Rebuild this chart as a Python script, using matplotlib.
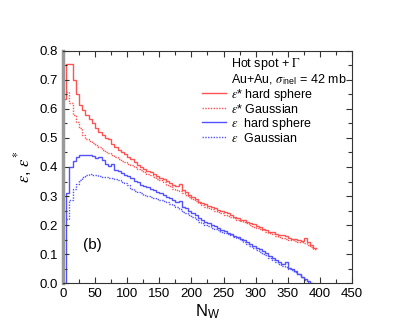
import numpy as np
import matplotlib
matplotlib.use('Agg')
import matplotlib.pyplot as plt
from matplotlib.lines import Line2D
from matplotlib.ticker import MultipleLocator

plt.rcParams['font.family'] = ['Liberation Sans', 'DejaVu Sans']
plt.rcParams['mathtext.fontset'] = 'stix'

# bin width in N_W
bin_w = 5

# eps* hard sphere, bins start at N_W = 0
star_hard = [0.633, 0.754, 0.754, 0.700, 0.650, 0.615, 0.595, 0.580, 0.565, 0.550,
             0.535, 0.520, 0.510, 0.499, 0.495, 0.478, 0.470, 0.460, 0.452, 0.445,
             0.436, 0.428, 0.418, 0.408, 0.400, 0.393, 0.386, 0.382, 0.376, 0.369,
             0.362, 0.357, 0.352, 0.346, 0.339, 0.333, 0.343, 0.322, 0.313, 0.305,
             0.298, 0.290, 0.281, 0.276, 0.272, 0.267, 0.263, 0.258, 0.252, 0.248,
             0.246, 0.240, 0.234, 0.228, 0.224, 0.219, 0.216, 0.212, 0.208, 0.203,
             0.198, 0.193, 0.188, 0.183, 0.177, 0.175, 0.170, 0.167, 0.164, 0.161,
             0.156, 0.153, 0.151, 0.148, 0.146, 0.157, 0.141, 0.132, 0.122]

# eps* Gaussian, bins start at N_W = 5
star_gauss = [0.660, 0.620, 0.580, 0.555, 0.535, 0.512, 0.497, 0.490, 0.482,
              0.476, 0.468, 0.458, 0.452, 0.447, 0.441, 0.436, 0.428, 0.422, 0.416,
              0.412, 0.407, 0.400, 0.394, 0.388, 0.383, 0.377, 0.371, 0.366, 0.360,
              0.356, 0.350, 0.337, 0.335, 0.325, 0.320, 0.316, 0.312, 0.303, 0.297,
              0.290, 0.282, 0.275, 0.268, 0.261, 0.257, 0.254, 0.250, 0.246, 0.240,
              0.236, 0.232, 0.228, 0.224, 0.219, 0.214, 0.210, 0.206, 0.200, 0.194,
              0.190, 0.186, 0.182, 0.177, 0.172, 0.168, 0.163, 0.160, 0.156, 0.152,
              0.149, 0.147, 0.145, 0.143, 0.141, 0.138, 0.132, 0.125, 0.118]

# eps hard sphere, bins start at N_W = 0
eps_hard = [0.000, 0.310, 0.400, 0.420, 0.435, 0.442, 0.442, 0.440, 0.440, 0.437,
            0.430, 0.435, 0.425, 0.410, 0.405, 0.412, 0.390, 0.387, 0.378, 0.372,
            0.368, 0.362, 0.353, 0.350, 0.338, 0.336, 0.330, 0.325, 0.320, 0.315,
            0.310, 0.303, 0.298, 0.292, 0.286, 0.280, 0.283, 0.263, 0.257, 0.250,
            0.242, 0.234, 0.225, 0.217, 0.212, 0.206, 0.200, 0.195, 0.190, 0.184,
            0.178, 0.172, 0.168, 0.163, 0.160, 0.153, 0.147, 0.140, 0.134, 0.127,
            0.122, 0.116, 0.110, 0.104, 0.093, 0.088, 0.080, 0.072, 0.066, 0.074,
            0.051, 0.048, 0.040, 0.030, 0.020, 0.014, 0.008, 0.000]

# eps Gaussian, bins start at N_W = 5
eps_gauss = [0.220, 0.285, 0.325, 0.342, 0.355, 0.366, 0.372, 0.375, 0.374,
             0.372, 0.370, 0.367, 0.364, 0.362, 0.361, 0.358, 0.355, 0.350, 0.345,
             0.338, 0.325, 0.318, 0.314, 0.311, 0.305, 0.301, 0.296, 0.293, 0.290,
             0.287, 0.283, 0.278, 0.273, 0.270, 0.262, 0.255, 0.246, 0.240, 0.233,
             0.227, 0.220, 0.212, 0.206, 0.200, 0.195, 0.190, 0.186, 0.182, 0.177,
             0.173, 0.169, 0.165, 0.160, 0.155, 0.148, 0.142, 0.136, 0.128, 0.120,
             0.115, 0.108, 0.100, 0.095, 0.088, 0.080, 0.072, 0.067, 0.060, 0.055,
             0.050, 0.044, 0.038, 0.030, 0.022, 0.012, 0.003]

red = '#ff5252'
blue = '#5252ff'

def edges(vals, start):
    return start + bin_w * np.arange(len(vals) + 1)

fig = plt.figure(figsize=(4.16, 3.33), dpi=100)
ax = fig.add_axes([0.1514, 0.150, 0.6947, 0.697])

ax.stairs(star_hard, edges(star_hard, 0), baseline=None, color=red, lw=1.0)
ax.stairs(star_gauss, edges(star_gauss, 5), baseline=None, color=red, lw=1.0,
          ls=(0, (1, 1)))
ax.stairs(eps_hard, edges(eps_hard, 0), baseline=None, color=blue, lw=1.0)
ax.stairs(eps_gauss, edges(eps_gauss, 5), baseline=None, color=blue, lw=1.0,
          ls=(0, (1, 1)))

ax.set_xlim(0, 450)
ax.set_ylim(0, 0.8)
ax.xaxis.set_major_locator(MultipleLocator(50))
ax.xaxis.set_minor_locator(MultipleLocator(25))
ax.yaxis.set_major_locator(MultipleLocator(0.1))
ax.yaxis.set_minor_locator(MultipleLocator(0.05))
ax.yaxis.set_major_formatter(lambda v, p: '%.1f' % v)
ax.tick_params(which='both', direction='in', top=True, right=True,
               length=4, width=0.8, labelsize=9.5, color='#333333')
ax.tick_params(which='minor', length=3)
for s in ['top', 'right', 'bottom']:
    ax.spines[s].set_linewidth(0.8)
    ax.spines[s].set_color('#333333')
ax.spines['left'].set_linewidth(2.5)
ax.spines['left'].set_color('#999999')

ax.set_xlabel(r'N$_\mathregular{W}$', fontsize=12, labelpad=2)
ax.set_ylabel(r'$\epsilon$, $\epsilon^{*}$', fontsize=12, labelpad=4)
ax.text(31, 0.13, '(b)', fontsize=11, va='center')

handles = [Line2D([], [], color='none'), Line2D([], [], color='none'),
           Line2D([], [], color=red, lw=1.0),
           Line2D([], [], color=red, lw=1.0, ls=(0, (1, 1))),
           Line2D([], [], color=blue, lw=1.0),
           Line2D([], [], color=blue, lw=1.0, ls=(0, (1, 1)))]
labels = [r'Hot spot + $\Gamma$',
          r'Au+Au, $\sigma_\mathregular{inel}$ = 42 mb',
          r'$\epsilon$* hard sphere',
          r'$\epsilon$* Gaussian',
          r'$\epsilon$  hard sphere',
          r'$\epsilon$  Gaussian']
ax.legend(handles, labels, loc='upper left', bbox_to_anchor=(0.455, 1.01),
          frameon=False, fontsize=9, handlelength=1.9, handletextpad=0.45,
          labelspacing=0.0, borderaxespad=0.2)

fig.savefig('out.png', dpi=100)
